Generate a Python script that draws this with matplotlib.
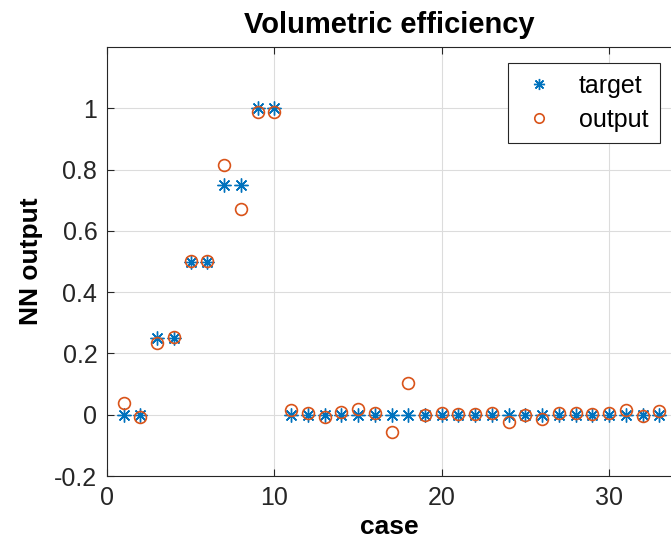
import matplotlib.pyplot as plt
import numpy as np

# cases and network values
cases = np.arange(1, 34)
target = [0, 0, 0.25, 0.25, 0.5, 0.5, 0.75, 0.75, 1, 1,
          0, 0, 0, 0, 0, 0, 0, 0, 0, 0, 0, 0, 0, 0, 0, 0, 0, 0, 0, 0, 0, 0, 0]
output = [0.039, -0.009, 0.234, 0.254, 0.503, 0.503, 0.816, 0.671, 0.989, 0.989,
          0.014, 0.005, -0.007, 0.01, 0.02, 0.005, -0.055, 0.104, 0.0, 0.004,
          0.002, 0.002, 0.006, -0.023, 0.0, -0.014, 0.005, 0.004, 0.002, 0.004,
          0.014, -0.005, 0.011]
yticks = [-0.2, 0, 0.2, 0.4, 0.6, 0.8, 1]
ytick_labels = ['-0.2', '0', '0.2', '0.4', '0.6', '0.8', '1']
xticks = [0, 10, 20, 30]

plt.rcParams['font.family'] = ['Liberation Sans', 'DejaVu Sans']
ink = '#262626'

fig = plt.figure(figsize=(6.71, 5.55), dpi=100)
ax = fig.add_axes([107 / 671, 1 - 476 / 555, 1 - 107 / 671, (476 - 47) / 555])

ax.plot(cases, target, linestyle='none', marker=(8, 2, 0), markersize=10,
        markeredgewidth=1.0, color='#0072BD', label='target')
ax.plot(cases, output, linestyle='none', marker='o', markersize=8.5,
        markeredgewidth=1.2, markerfacecolor='none', markeredgecolor='#D95319',
        label='output')

ax.set_xlim(0, 33.7)
ax.set_ylim(-0.2, 1.2)
ax.set_xticks(xticks)
ax.set_yticks(yticks)
ax.set_yticklabels(ytick_labels)
ax.grid(True, color='#dcdcdc', linewidth=0.8)
ax.set_axisbelow(True)
ax.tick_params(direction='in', length=5, labelsize=18, colors=ink, pad=7,
               top=True)
ax.spines['right'].set_visible(False)
for side in ['left', 'bottom', 'top']:
    ax.spines[side].set_color(ink)

ax.set_title('Volumetric efficiency', fontsize=21, fontweight='bold', pad=10)
ax.set_xlabel('case', fontsize=19, fontweight='bold', labelpad=4)
ax.set_ylabel('NN output', fontsize=19, fontweight='bold', labelpad=8)

leg = ax.legend(loc='upper right', bbox_to_anchor=(0.980, 0.963), fontsize=18,
                fancybox=False, framealpha=1, edgecolor=ink, markerscale=0.8,
                handletextpad=0.8, borderpad=0.45, handlelength=1.6,
                borderaxespad=0, labelspacing=0.4)
leg.get_frame().set_linewidth(0.8)

fig.savefig('out.png', dpi=100)
